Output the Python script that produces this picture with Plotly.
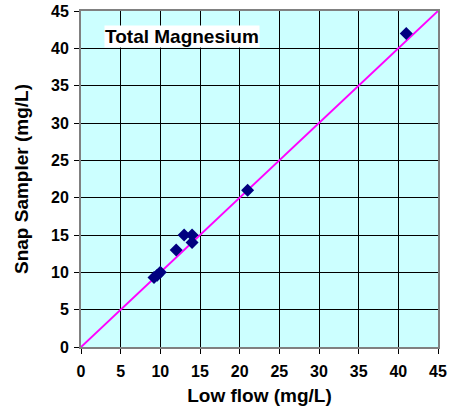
import plotly.graph_objects as go

low_flow = [41, 21, 13, 14, 14, 12, 10, 9.6, 9.2]
snap_sampler = [42, 21, 15, 15, 14, 13, 10, 9.6, 9.3]
line_x = [0, 45]
line_y = [0, 45]
ticks = [0, 5, 10, 15, 20, 25, 30, 35, 40, 45]
tick_text = ["<b>%d</b>" % t for t in ticks]

fig = go.Figure()
fig.add_trace(go.Scatter(x=line_x, y=line_y, mode="lines",
                         line=dict(color="#ff00ff", width=2), showlegend=False))
fig.add_trace(go.Scatter(x=low_flow, y=snap_sampler, mode="markers",
                         marker=dict(symbol="diamond", color="#000080", size=10),
                         showlegend=False))

fam = "Liberation Sans, Arial, sans-serif"
axis_common = dict(range=[0, 45], tickvals=ticks, ticktext=tick_text,
                   showgrid=True, gridcolor="black", gridwidth=1,
                   zeroline=False, showline=True, linecolor="#808080", linewidth=2, mirror=True,
                   ticks="outside", ticklen=5, tickcolor="black",
                   tickfont=dict(size=16, family=fam, color="black"))
fig.update_layout(
    width=453, height=410,
    margin=dict(l=81, r=15, t=11, b=63, autoexpand=False),
    paper_bgcolor="white", plot_bgcolor="#ccffff",
    font=dict(family=fam, color="black"),
    xaxis=dict(**axis_common, ticklabelstandoff=4,
               title=dict(text="<b>Low flow (mg/L)</b>", font=dict(size=19), standoff=9)),
    yaxis=dict(**axis_common, ticklabelstandoff=2,
               title=dict(text="<b>Snap Sampler (mg/L)</b>", font=dict(size=19), standoff=17)),
    annotations=[dict(text="<b>Total Magnesium</b>", x=12.73, y=41.6, xref="x", yref="y",
                      showarrow=False, bgcolor="white", font=dict(size=19, color="black"),
                      borderpad=0)],
)
fig.write_html("out.html", config={"displayModeBar": False},
               post_script="document.body.style.margin='0';")
